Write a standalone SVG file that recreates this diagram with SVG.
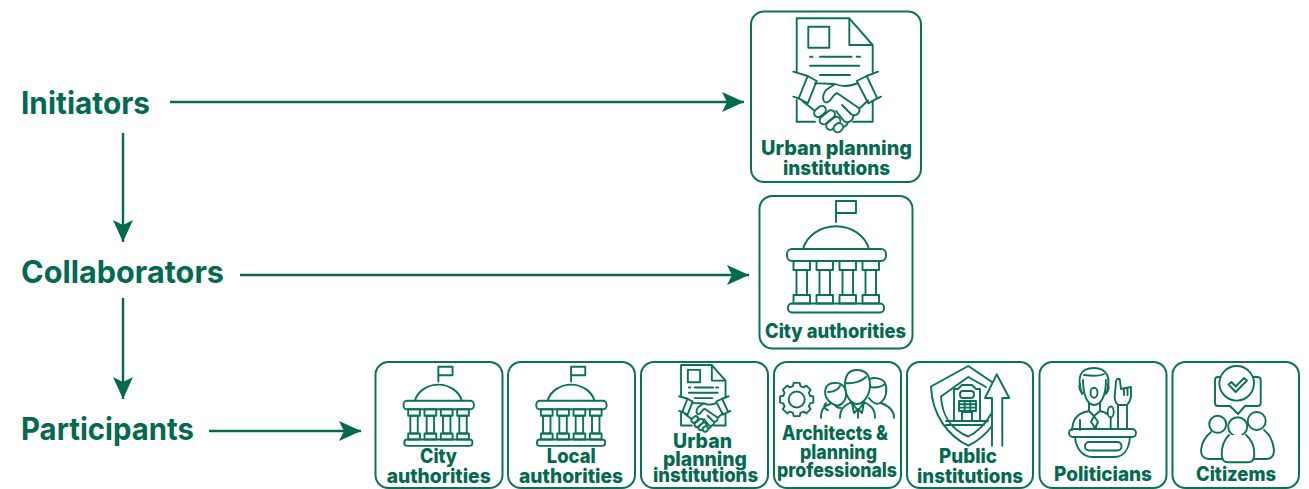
<svg xmlns="http://www.w3.org/2000/svg" xmlns:xlink="http://www.w3.org/1999/xlink" width="1309" height="489" viewBox="0 0 1309 489">
<style>
text{font-family:"Inter","Lato",sans-serif;font-weight:800;fill:#03694f;text-anchor:middle}
.h{font-size:31px;font-weight:700}
.b{font-size:20px}
.s{font-size:19.500px}
.box{fill:#fff;stroke:#0b7158;stroke-width:2}
.i{fill:none;stroke:#0b7158;stroke-width:1.900;stroke-linejoin:round;stroke-linecap:round}
.i *{vector-effect:non-scaling-stroke}
.w{fill:#fff}
.c{fill:none;stroke:#03694f;stroke-width:2.400}
</style>
<defs>
<marker id="ah" markerUnits="userSpaceOnUse" markerWidth="24" markerHeight="22" refX="22" refY="10" orient="auto"><path d="M0 0L22 10L0 20L5 10Z" fill="#03694f"/></marker>
<g id="bld" class="i">
<path d="M836 222V201H856V213H836"/>
<path d="M803 249A34 30 0 0 1 869 249"/>
<rect x="787" y="249" width="99" height="12" rx="5"/>
<rect x="788" y="303.500" width="96" height="9" rx="4"/>
<g id="col"><rect x="793.500" y="261" width="16.500" height="9"/><rect x="796.500" y="270" width="10.500" height="25"/><rect x="793.500" y="295" width="16.500" height="8.500"/></g>
<use xlink:href="#col" x="23"/><use xlink:href="#col" x="46"/><use xlink:href="#col" x="69"/>
</g>
<g id="hs" class="i">
<path d="M796.700 72V18.300H849.300L872.700 45V72M849.300 18.300V45H872.700"/>
<rect x="808.300" y="26.700" width="21" height="21"/>
<path d="M810 56.700H812.500M820 56.700H851.500M856.700 56.700H860"/>
<path d="M810 65.700H859.300M820 75H850"/>
<path d="M796.700 100V121.700H815M872.700 101V121.700H853"/>
<path d="M793.300 71.700L807.700 76M878 71.700L866.700 76M793.300 96.700L798.700 98.300M881 96.700L877.300 98.300"/>
<path d="M807.700 76L816.700 81L807.700 103.300L798.700 98.300ZM856.700 81L866.700 76L877.300 98.300L868.300 103.300Z"/>
<path d="M815 83.500C822 83 830 84 834 84M803 101.500L815 111"/>
<path d="M857 83.500C848 87 842 87 835 84L826 90C821 97 823 104 828 102C832 100 832 95 837 93L859.500 108.500L868 100.500M859.500 108.500C860 114 855 117 851 114M853.500 115.500C853 121 848 124 844 121M848 122.500C847 126 843 129 838 126M842 105L851 114M836 111L844 121M830 116L838 126"/>
<g class="w"><rect x="813.500" y="107.500" width="13" height="8" rx="4" transform="rotate(-40 820 111.500)"/><rect x="818.500" y="113.300" width="17.500" height="8" rx="4" transform="rotate(-40 827.300 117.300)"/><rect x="825.300" y="119.300" width="16" height="8" rx="4" transform="rotate(-40 833.300 123.300)"/><rect x="833.300" y="123.700" width="10" height="8" rx="4" transform="rotate(-40 838.300 127.700)"/></g>
</g>
</defs>

<g id="connectors">
<path class="c" marker-end="url(#ah)" d="M170 102H744"/>
<path class="c" marker-end="url(#ah)" d="M240 275H749"/>
<path class="c" marker-end="url(#ah)" d="M209 431H361"/>
<path class="c" marker-end="url(#ah)" d="M123 133V242"/>
<path class="c" marker-end="url(#ah)" d="M123 298V399"/>
</g>

<g id="initiators"><text class="h" x="85.500" y="114" textLength="129" lengthAdjust="spacingAndGlyphs">Initiators</text></g>
<g id="collaborators"><text class="h" x="122.500" y="283" textLength="203" lengthAdjust="spacingAndGlyphs">Collaborators</text></g>
<g id="participants"><text class="h" x="107.500" y="440" textLength="173" lengthAdjust="spacingAndGlyphs">Participants</text></g>

<g id="n-urban-top"><rect class="box" x="751" y="11.500" width="170" height="170.500" rx="13"/><use xlink:href="#hs"/><text class="b" x="836.500" y="155" textLength="151" lengthAdjust="spacingAndGlyphs">Urban planning</text><text class="b" x="836.500" y="175" textLength="107" lengthAdjust="spacingAndGlyphs">institutions</text></g>
<g id="n-city-top"><rect class="box" x="759.500" y="196" width="153" height="152.500" rx="13"/><use xlink:href="#bld"/><text class="b" x="835.500" y="338" textLength="141" lengthAdjust="spacingAndGlyphs">City authorities</text></g>

<g id="n-city"><rect class="box" x="375.500" y="362" width="127" height="126" rx="13"/><use xlink:href="#bld" transform="translate(-155.200 224) scale(.71)"/><text class="s" x="438.500" y="463" textLength="37" lengthAdjust="spacingAndGlyphs">City</text><text class="s" x="438.700" y="483" textLength="104" lengthAdjust="spacingAndGlyphs">authorities</text></g>
<g id="n-local"><rect class="box" x="508" y="362" width="127" height="126" rx="13"/><use xlink:href="#bld" transform="translate(-22.500 224) scale(.71)"/><text class="s" x="571.300" y="463" textLength="49" lengthAdjust="spacingAndGlyphs">Local</text><text class="s" x="571" y="483" textLength="104" lengthAdjust="spacingAndGlyphs">authorities</text></g>
<g id="n-urban"><rect class="box" x="641" y="362" width="127" height="126" rx="13"/><use xlink:href="#hs" transform="translate(215 354.300) scale(.585)"/><text class="s" x="702.500" y="448" textLength="59" lengthAdjust="spacingAndGlyphs">Urban</text><text class="s" x="705" y="466" textLength="84" lengthAdjust="spacingAndGlyphs">planning</text><text class="s" x="705.500" y="482" textLength="105" lengthAdjust="spacingAndGlyphs">institutions</text></g>
<g id="n-architects"><rect class="box" x="774" y="362" width="127" height="126" rx="13"/>
<g class="i"><circle cx="796.700" cy="399.500" r="8"/>
<path transform="translate(796.700 399.500) scale(.82) translate(-796.700 -403.250)" d="M793 383H800.400L801.300 387L805 388.500L808.500 386.300L813.700 391.500L811.500 395L813 398.700L817 399.600V407L813 407.900L811.500 411.600L813.700 415L808.500 420.200L805 418L801.300 419.500L800.400 423.500H793L792.100 419.500L788.400 418L785 420.200L779.700 415L781.900 411.600L780.400 407.900L776.400 407V399.600L780.400 398.700L781.900 395L779.700 391.500L785 386.300L788.400 388.500L792.100 387Z"/>
<path d="M826 397C823 388 828 383 834 383C842 382 847 388 846 396C845 403 839 407 835 405C830 403 828 401 826 397ZM828 392C834 392 838 390 840 386"/>
<path d="M821 417.700C821 409 824 406 830 404M826 403C823 406 824 409 828 410M841 408C838 408 836 407 835 405"/>
<path d="M845 385C845 374 850 370 857 370C865 370 870 375 870 385C870 396 863 404 857 404C851 404 845 396 845 385Z"/>
<path d="M845 383C854 384 862 381 866 377M840 417.700C840 408 845 405 851.700 402L858 411L864 402C870 405 875 408 875 417.700M858 411V417.700M851.700 402L854 413L858 409M864 402L862 413L858 409"/>
<path d="M870 379C874 377 882 378 885 383C888 390 886 399 880 403C876 405 872 402 869 398M870 387C875 388 881 387 885 384M881 403C889 406 894 410 894 417.700"/>
</g>
<text class="s" x="835" y="440" textLength="106" lengthAdjust="spacingAndGlyphs">Architects &amp;</text><text class="s" x="838.500" y="459" textLength="77" lengthAdjust="spacingAndGlyphs">planning</text><text class="s" x="837" y="477" textLength="120" lengthAdjust="spacingAndGlyphs">professionals</text></g>
<g id="n-public"><rect class="box" x="907" y="362" width="126" height="126" rx="13"/>
<g class="i">
<path d="M992 382L968.300 366L931 386.500C932 415 948 436 968.300 445.700C978 441 986 434 992 426"/>
<path d="M986 387L968.300 377L941 396.500C942 416 952 430 968.300 436.500C976 433 986 424 991 414"/>
<path d="M954 421V389H958L962 385H972L976 389H980V421M946 421H988M946 425H984M962 421V412H972V421"/>
<rect x="960" y="391" width="14" height="7" rx="3"/><rect x="959" y="401" width="17" height="10"/><path d="M959 404.300H976M959 407.600H976M964.700 401V411M970.300 401V411"/>
<path d="M992 445.700V398H985L996.700 374.300L1009.300 398H1002.300V445.700"/>
</g>
<text class="s" x="968" y="463" textLength="58" lengthAdjust="spacingAndGlyphs">Public</text><text class="s" x="970" y="483" textLength="106" lengthAdjust="spacingAndGlyphs">institutions</text></g>
<g id="n-politicians"><rect class="box" x="1039.500" y="362" width="127" height="126" rx="13"/>
<g class="i">
<path d="M1082 394C1077 378 1079 368 1094 368C1107 368 1112 378 1106 394"/>
<path d="M1084 375C1092 376 1100 376 1104 374"/>
<path d="M1083 380C1083 396 1088 405 1094 405C1101 405 1106 396 1106 380"/>
<path d="M1080 384C1078 388 1081 393 1083 393M1108 384C1110 388 1107 393 1106 393"/>
<ellipse cx="1094" cy="392.700" rx="3.500" ry="5"/>
<path d="M1089 403V411L1094 416L1100 411V403M1089 411C1078 413 1073 418 1072 430M1100 411C1104 412 1106 413 1107 414M1080 430V420M1094 416L1091 422L1094 426V429M1094 416L1098 422L1096 426V429"/>
<ellipse cx="1110.700" cy="412" rx="3" ry="5.500"/><path d="M1110.700 417.500V429"/>
<path d="M1118 429V405C1115 402 1114 398 1115 393L1116 381C1117 378 1120 378 1120 381L1121 389L1131 387V397C1130 402 1128 404 1127 405V429M1118 405H1127M1124 388V395M1127.500 388V395"/>
<rect x="1069" y="429" width="67" height="8" rx="4"/>
<path d="M1075 437C1076 450 1084 457 1092 457H1114C1123 457 1129 450 1130 437"/>
<rect x="1085" y="442" width="36.500" height="8.500" rx="4"/>
</g>
<text class="s" x="1103" y="481" textLength="98" lengthAdjust="spacingAndGlyphs">Politicians</text></g>
<g id="n-citizems"><rect class="box" x="1172.500" y="362" width="126.500" height="126" rx="13"/>
<g class="i">
<path d="M1221 377H1218Q1215 377 1215 380V403Q1215 406 1218 406H1230L1238 414L1245 406H1257Q1260.700 406 1260.700 403V380Q1260.700 377 1257 377H1253"/>
<circle class="w" cx="1236.700" cy="383.300" r="17.300"/>
<path d="M1228.500 384.500L1235.700 392L1247 380.500L1244 378L1235.700 386.500L1231.500 382Z"/>
<circle cx="1217.700" cy="424.300" r="8.500"/><circle cx="1256.700" cy="421" r="9"/>
<path d="M1224 459H1209C1203 459 1201 455 1201 450C1202 441 1206 436 1211 432M1250 459H1266C1272 459 1274 455 1274 450C1273 440 1269 434 1264 430"/>
<circle class="w" cx="1237.700" cy="426.700" r="9.500"/>
<path class="w" d="M1229 435C1224 440 1221.700 447 1221.700 454Q1221.700 462.300 1228 462.300H1248Q1254.300 462.300 1254.300 454C1254.300 447 1252 440 1246 435"/>
</g>
<text class="s" x="1236" y="481" textLength="80" lengthAdjust="spacingAndGlyphs">Citizems</text></g>
</svg>
